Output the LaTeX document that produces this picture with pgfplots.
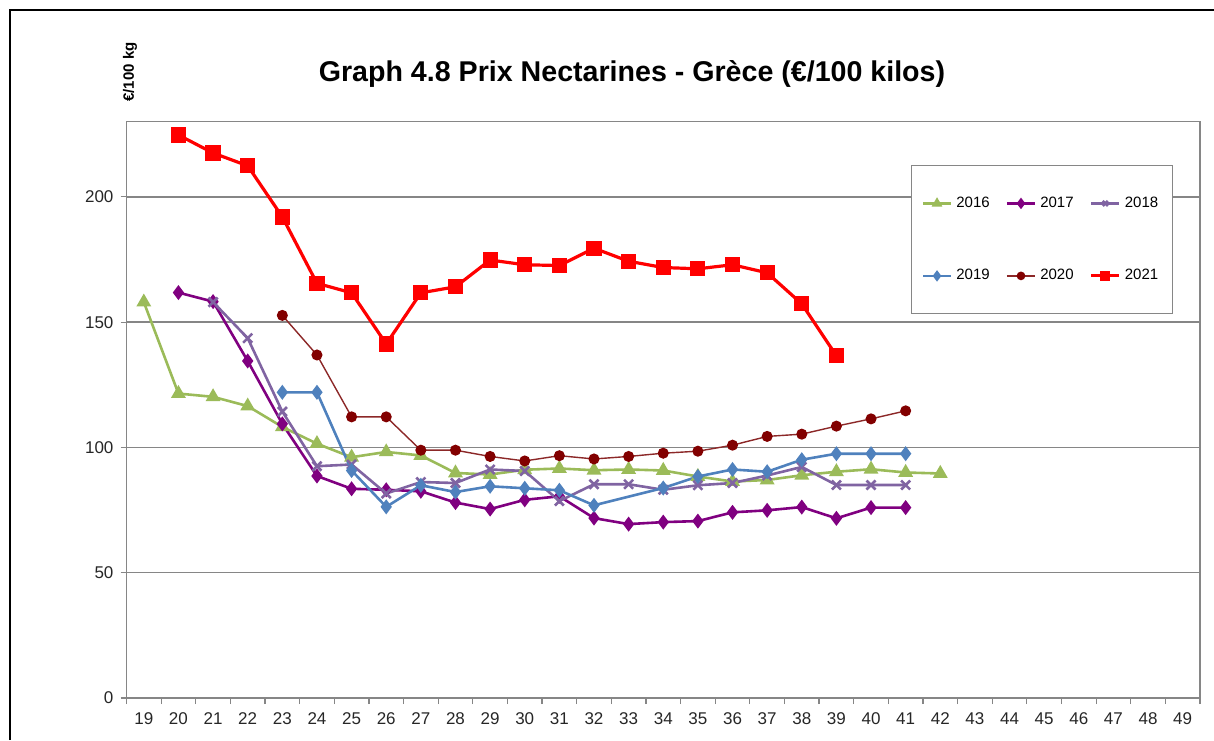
\documentclass[border=0pt]{standalone}
\usepackage{fontspec}
\setmainfont{Liberation Sans}
\usepackage{pgfplots}
\pgfplotsset{compat=1.18}

\definecolor{c16}{RGB}{155,187,89}
\definecolor{c17}{RGB}{128,0,128}
\definecolor{c18}{RGB}{128,100,162}
\definecolor{c19}{RGB}{79,129,189}
\definecolor{c20}{RGB}{140,40,40}
\definecolor{c20m}{RGB}{130,0,0}
\definecolor{c21}{RGB}{255,0,0}
\definecolor{gridc}{RGB}{134,134,134}

\begin{document}
\begin{tikzpicture}[x=0.5pt,y=0.5pt]
\path[use as bounding box] (0,0) rectangle (1214,740);
% outer frame (top and left edges of the page)
\draw[line width=1.2pt] (10,0) -- (10,730) -- (1214,730);

% title and unit
\node[anchor=base, font=\bfseries\fontsize{14.3}{16}\selectfont] at (632,658) {Graph 4.8 Prix Nectarines - Grèce (€/100 kilos)};
\node[rotate=90, font=\bfseries\fontsize{7.5}{9}\selectfont] at (130,668) {€/100 kg};

\begin{axis}[
    at={(63.25pt,21pt)}, anchor=south west,
    scale only axis,
    width=536.75pt, height=288.15pt,
    xmin=18.5, xmax=49.5,
    ymin=0, ymax=230,
    xtick={19,...,49},
    minor xtick={18.5,19.5,...,49.5},
    ytick={0,50,100,150,200},
    xtick pos=left, ytick pos=left,
    tick align=outside,
    major tick length=0pt,
    minor tick length=3pt,
    yticklabel style={xshift=-3pt},
    xticklabel style={yshift=-4pt},
    extra y ticks={0,50,100,150,200},
    extra y tick labels={},
    extra y tick style={major tick length=3pt, grid=none},
    tick style={gridc, line width=0.6pt},
    ymajorgrids,
    major grid style={gridc, line width=0.7pt},
    axis line style={gridc, line width=0.8pt},
    ticklabel style={font=\fontsize{8.5}{10}\selectfont, text=black!85},
    /pgf/number format/assume math mode=true,
    legend columns=3,
    legend cell align=left,
    legend image code/.code={\draw[mark repeat=2,mark phase=2,mark size=1.8pt] plot coordinates {(0pt,0pt) (7pt,0pt) (14pt,0pt)};},
    legend style={at={(0.7308,0.9249)}, anchor=north west, draw=gridc, line width=0.7pt,
        font=\fontsize{7.5}{9}\selectfont, inner xsep=5pt, inner ysep=13.5pt,
        row sep=25.5pt, /tikz/every even column/.append style={column sep=6pt}},
]

\addplot[c16, line width=1.3pt, mark=triangle*, mark size=3pt] coordinates {
    (19,158) (20,121.5) (21,120.2) (22,116.5) (23,108.2) (24,101.5) (25,96.1)
    (26,98.2) (27,96.8) (28,89.8) (29,89.2) (30,91.1) (31,91.6) (32,90.9)
    (33,91.2) (34,90.8) (35,88.4) (36,86.4) (37,87.0) (38,88.9) (39,90.3)
    (40,91.3) (41,90.0) (42,89.6)
};
\addlegendentry{2016}

\addplot[c17, line width=1.3pt, mark=diamond*, mark size=2.7pt] coordinates {
    (20,161.8) (21,158.2) (22,134.5) (23,109.4) (24,88.6) (25,83.5) (26,83.1)
    (27,82.5) (28,78.0) (29,75.4) (30,79.1) (31,80.5) (32,71.8) (33,69.4)
    (34,70.2) (35,70.6) (36,74.1) (37,74.9) (38,76.2) (39,71.7) (40,76.0)
    (41,76.0)
};
\addlegendentry{2017}

\addplot[c18, line width=1.3pt, mark=x, mark size=3.2pt] coordinates {
    (21,158.0) (22,143.6) (23,114.3) (24,92.5) (25,93.2) (26,81.6) (27,86.2)
    (28,85.8) (29,91.2) (30,90.6) (31,78.6) (32,85.3) (33,85.3) (34,83.1)
    (35,84.9) (36,85.8) (37,88.8) (38,92.2) (39,85.0) (40,85.0) (41,85.0)
};
\addlegendentry{2018}

\addplot[c19, line width=1.3pt, mark=diamond*, mark size=2.7pt] coordinates {
    (23,122.0) (24,122.0) (25,90.8) (26,76.3) (27,84.9) (28,82.2) (29,84.5)
    (30,83.7) (31,82.9) (32,76.9) (34,83.8) (35,88.4) (36,91.2) (37,90.3)
    (38,95.1) (39,97.5) (40,97.5) (41,97.5)
};
\addlegendentry{2019}

\addplot[c20, line width=0.7pt, mark=*, mark size=2.4pt, mark options={fill=c20m, draw=c20m}] coordinates {
    (23,152.7) (24,136.9) (25,112.2) (26,112.2) (27,98.9) (28,98.9) (29,96.4)
    (30,94.6) (31,96.7) (32,95.4) (33,96.4) (34,97.7) (35,98.5) (36,100.9)
    (37,104.4) (38,105.3) (39,108.5) (40,111.4) (41,114.6)
};
\addlegendentry{2020}

\addplot[c21, line width=1.6pt, mark=square*, mark size=3pt] coordinates {
    (20,224.7) (21,217.5) (22,212.4) (23,192.0) (24,165.5) (25,161.7) (26,141.3)
    (27,161.7) (28,164.1) (29,174.8) (30,172.9) (31,172.6) (32,179.5) (33,174.3)
    (34,171.8) (35,171.3) (36,172.9) (37,169.7) (38,157.3) (39,136.6)
};
\addlegendentry{2021}

\end{axis}
\end{tikzpicture}
\end{document}
